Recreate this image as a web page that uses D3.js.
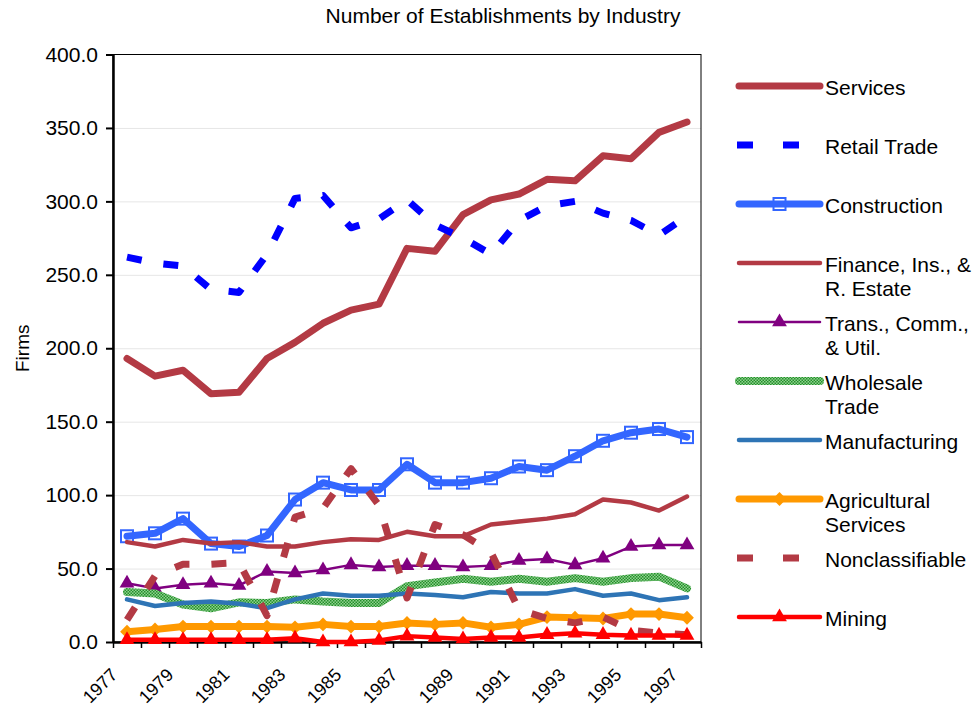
<!DOCTYPE html>
<html lang="en">
<head>
<meta charset="UTF-8">
<title>Number of Establishments by Industry</title>
<script src="https://cdn.jsdelivr.net/npm/d3@7"></script>
<style>
  body { margin: 0; background: #fff; }
  svg text { font-family: 'Liberation Sans', Arial, sans-serif; fill: #000; }
</style>
</head>
<body>
<div id="chart"></div>
<script>
  // ---- data ----
  const years = [1977, 1978, 1979, 1980, 1981, 1982, 1983, 1984, 1985, 1986, 1987,
    1988, 1989, 1990, 1991, 1992, 1993, 1994, 1995, 1996, 1997];
  const yTicks = [0, 50, 100, 150, 200, 250, 300, 350, 400];

  const services = [193, 181, 185, 169, 170, 193, 204, 217, 226, 230, 268, 266, 291, 301, 305, 315, 314, 331, 329, 347, 354];
  const retail = [262, 258, 256, 240, 238, 264, 302, 304, 282, 288, 301, 284, 275, 264, 287, 297, 300, 292, 287, 277, 290];
  const construction = [72, 74, 84, 67, 65, 72.5, 97, 108.5, 103.5, 103.5, 121, 108.5, 108.5, 111.5, 119.5, 117, 126.5, 137, 142.5, 145, 139.5];
  const finance = [68, 65, 69.5, 67, 68, 65, 65, 68, 70, 69.5, 75, 72, 72, 80, 82, 84, 87, 97, 95, 89.5, 99];
  const trans = [40, 36.5, 39, 40, 38.5, 48, 47, 49, 52.5, 51, 52, 52, 51, 52, 55.5, 56.5, 52.5, 57, 65, 66, 66];
  const wholesale = [34, 33, 25.5, 23, 27, 26.5, 29, 27.5, 26.5, 26.5, 38, 40.5, 43, 41, 43, 41, 43.5, 41, 43.5, 44.5, 36.5];
  const manufacturing = [29, 24.5, 26.5, 27.5, 26, 23, 29, 33, 31.5, 31.5, 33, 32, 30.5, 34, 33, 33, 36, 31.5, 33, 28.5, 30.5];
  const agricultural = [7, 8.5, 10.5, 10.5, 10.5, 10.5, 10, 12, 10.5, 10.5, 13, 12, 13, 10, 12, 17, 16.5, 16, 19, 19, 16.5];
  const nonclassifiable = [15, 45, 53, 53, 54, 18, 85, 91, 118, 93, 30, 80, 73, 61, 22, 16, 13, 17, 8, 6, 5];
  const mining = [1.5, 1.5, 1.5, 1.5, 1.5, 1.5, 2.5, 0, 0, 1, 4, 3, 2, 3, 3, 5, 6, 5, 4.5, 4.5, 4.5];

  const legendLabels = [
    ['Services'], ['Retail Trade'], ['Construction'], ['Finance, Ins., &', 'R. Estate'],
    ['Trans., Comm.,', '& Util.'], ['Wholesale', 'Trade'], ['Manufacturing'],
    ['Agricultural', 'Services'], ['Nonclassifiable'], ['Mining']
  ];

  // styling per series, same order as the legend
  const series = [
    { values: services, color: '#b33a44', width: 7 },
    { values: retail, color: '#0000ff', width: 7, dash: '15,22', legendDash: '16,30' },
    { values: construction, color: '#3366ff', width: 7, marker: 'square' },
    { values: finance, color: '#b33a44', width: 4.5 },
    { values: trans, color: '#800080', width: 2.5, marker: 'triangle' },
    { values: wholesale, color: 'url(#hatch)', width: 8 },
    { values: manufacturing, color: '#2e74b5', width: 4.5 },
    { values: agricultural, color: '#ff9900', width: 7, marker: 'diamond' },
    { values: nonclassifiable, color: '#b33a44', width: 7, dash: '15,22', legendDash: '16,30' },
    { values: mining, color: '#ff0000', width: 4.5, marker: 'triangle' }
  ];

  const width = 980, height = 709;
  const plot = { left: 113, right: 701, top: 54.5, bottom: 642 };

  const svg = d3.select('#chart').append('svg')
    .attr('width', width)
    .attr('height', height);

  // hatched fill for the wholesale line
  const defs = svg.append('defs');
  const pat = defs.append('pattern')
    .attr('id', 'hatch')
    .attr('patternUnits', 'userSpaceOnUse')
    .attr('width', 3).attr('height', 3);
  pat.append('rect').attr('width', 3).attr('height', 3).attr('fill', '#8fd08f');
  pat.append('rect').attr('width', 1.5).attr('height', 1.5).attr('fill', '#23902a');
  pat.append('rect').attr('x', 1.5).attr('y', 1.5).attr('width', 1.5).attr('height', 1.5).attr('fill', '#23902a');

  // scales
  const x = d3.scaleBand().domain(years).range([plot.left, plot.right]);
  const xPos = yr => x(yr) + x.bandwidth() / 2;
  const xEdge = d3.scaleLinear().domain([0, years.length]).range([plot.left, plot.right]);
  const y = d3.scaleLinear().domain([0, 400]).range([plot.bottom, plot.top]);

  // gridlines
  svg.append('g')
    .attr('class', 'grid')
    .attr('transform', `translate(${plot.left},0)`)
    .call(d3.axisLeft(y).tickValues(yTicks.slice(1, -1)).tickSize(-(plot.right - plot.left)).tickFormat(''))
    .call(g => g.select('.domain').remove())
    .call(g => g.selectAll('line').attr('stroke', '#e6e6e6'));

  // plot frame (top + right)
  svg.append('rect')
    .attr('x', plot.left).attr('y', plot.top)
    .attr('width', plot.right - plot.left).attr('height', plot.bottom - plot.top)
    .attr('fill', 'none').attr('stroke', '#000').attr('stroke-width', 1);

  // y axis
  svg.append('g')
    .attr('transform', `translate(${plot.left},0)`)
    .call(d3.axisLeft(y).tickValues(yTicks).tickFormat(d3.format('.1f')).tickSize(7).tickSizeOuter(0).tickPadding(8))
    .call(g => g.select('.domain').attr('stroke-width', 2.5))
    .call(g => g.selectAll('line').attr('stroke-width', 2))
    .call(g => g.selectAll('text').style('font-size', '21px').attr('fill', '#000'));

  // x axis: ticks on category boundaries
  svg.append('g')
    .attr('transform', `translate(0,${plot.bottom})`)
    .call(d3.axisBottom(xEdge).tickValues(d3.range(years.length + 1)).tickFormat('').tickSize(6).tickSizeOuter(0))
    .call(g => g.select('.domain').attr('stroke-width', 2.5))
    .call(g => g.selectAll('line').attr('stroke-width', 1.5));

  // x labels, every other year, rotated
  svg.append('g').selectAll('text')
    .data(years.filter((d, i) => i % 2 === 0))
    .enter().append('text')
    .attr('transform', d => `translate(${xPos(d) - 8.5},${plot.bottom + 34}) rotate(-45)`)
    .style('text-anchor', 'end')
    .style('font-size', '18px')
    .text(d => d);

  // title + axis label
  svg.append('text')
    .attr('x', 503).attr('y', 23)
    .style('text-anchor', 'middle')
    .style('font-size', '21px')
    .text('Number of Establishments by Industry');

  svg.append('text')
    .attr('transform', `translate(29,${(plot.top + plot.bottom) / 2}) rotate(-90)`)
    .style('text-anchor', 'middle')
    .style('font-size', '19px')
    .text('Firms');

  // markers
  function drawMarker(sel, type, color) {
    if (type === 'square') {
      sel.append('rect')
        .attr('x', -6).attr('y', -6).attr('width', 12).attr('height', 12)
        .attr('fill', 'none').attr('stroke', color).attr('stroke-width', 2);
    } else if (type === 'triangle') {
      sel.append('path')
        .attr('d', d3.symbol(d3.symbolTriangle, 95)())
        .attr('fill', color);
    } else if (type === 'diamond') {
      sel.append('path')
        .attr('d', d3.symbol(d3.symbolSquare, 95)())
        .attr('transform', 'rotate(45)')
        .attr('fill', color);
    }
  }

  const line = d3.line()
    .x((d, i) => xPos(years[i]))
    .y(d => y(d));

  const linesG = svg.append('g');
  series.forEach(s => {
    const g = linesG.append('g');
    g.append('path')
      .datum(s.values)
      .attr('d', line)
      .attr('fill', 'none')
      .attr('stroke', s.color)
      .attr('stroke-width', s.width)
      .attr('stroke-linejoin', 'round')
      .attr('stroke-linecap', s.dash ? 'butt' : 'round')
      .attr('stroke-dasharray', s.dash || null);
    if (s.marker) {
      g.selectAll('.marker')
        .data(s.values)
        .enter().append('g')
        .attr('class', 'marker')
        .attr('transform', (d, i) => `translate(${xPos(years[i])},${y(d)})`)
        .each(function () { drawMarker(d3.select(this), s.marker, s.color); });
    }
  });

  // legend
  const legend = svg.append('g').attr('transform', 'translate(737,0)');
  series.forEach((s, i) => {
    const ly = 86 + i * 59;
    const item = legend.append('g').attr('transform', `translate(0,${ly})`);
    item.append('line')
      .attr('x1', s.dash ? 0 : 2).attr('x2', s.dash ? 85 : 83)
      .attr('stroke', s.color)
      .attr('stroke-width', s.width)
      .attr('stroke-linecap', s.dash ? 'butt' : 'round')
      .attr('stroke-dasharray', s.legendDash || null);
    if (s.marker) {
      const m = item.append('g').attr('transform', 'translate(42.5,0)');
      drawMarker(m, s.marker, s.color);
    }
    item.append('text')
      .attr('x', 88)
      .attr('y', 9)
      .style('font-size', '21px')
      .selectAll('tspan')
      .data(legendLabels[i])
      .enter().append('tspan')
      .attr('x', 88)
      .attr('dy', (d, j) => j === 0 ? 0 : 24)
      .text(d => d);
  });
</script>
</body>
</html>
